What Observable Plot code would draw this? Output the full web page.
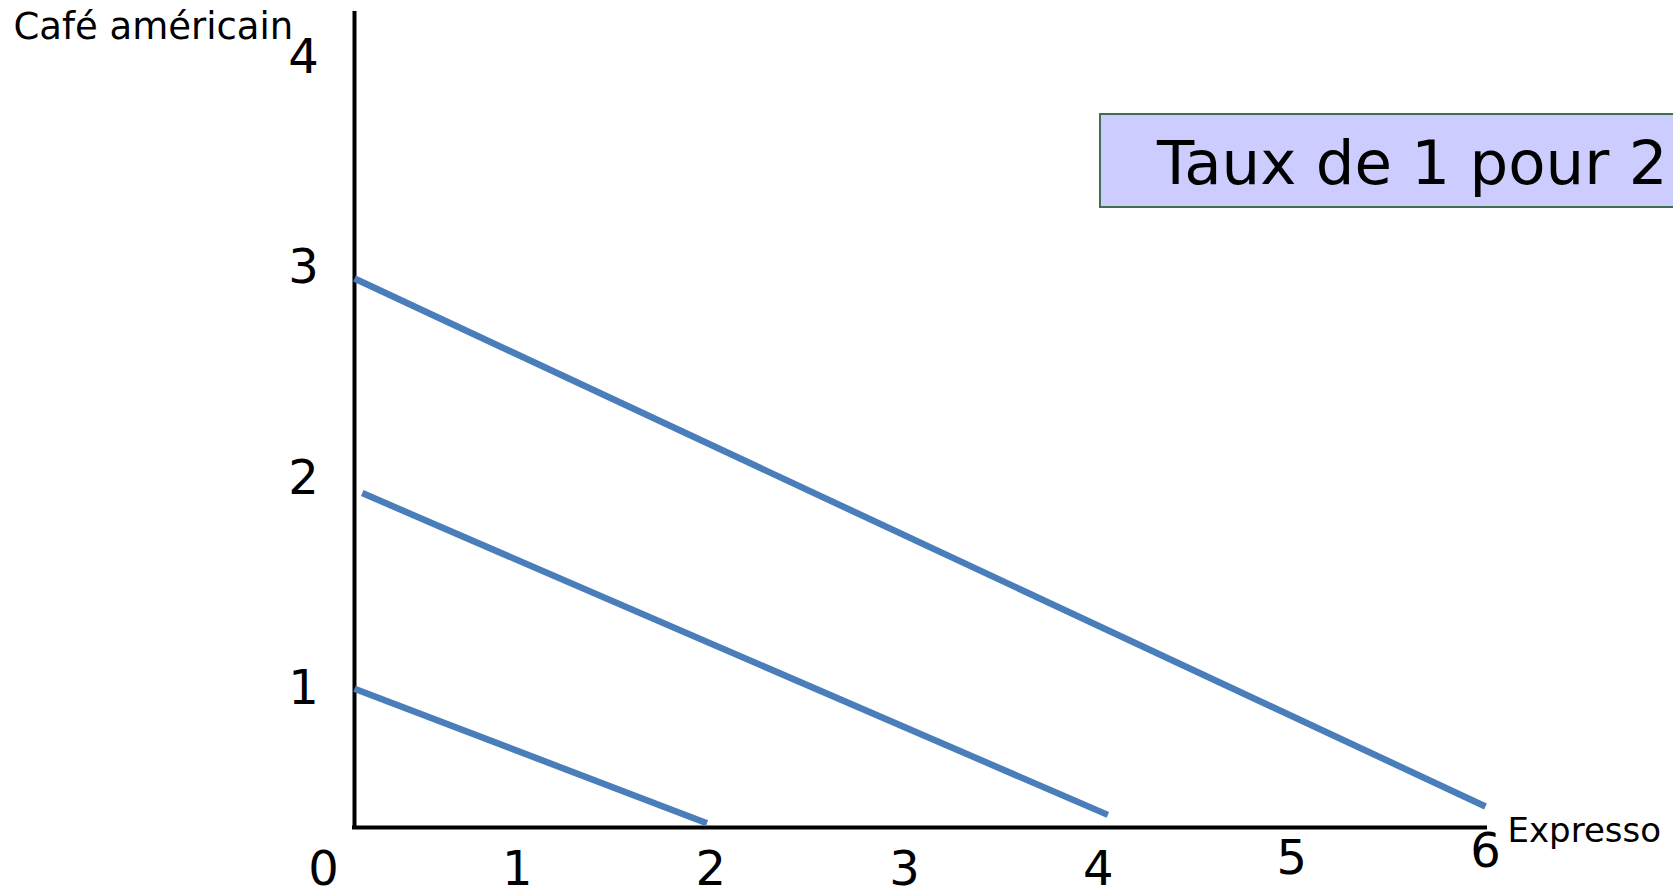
<!DOCTYPE html>
<html>
<head>
<meta charset="utf-8">
<script src="https://cdn.jsdelivr.net/npm/d3@7"></script>
<script src="https://cdn.jsdelivr.net/npm/@observablehq/plot@0.6"></script>
<style>
  body { margin: 0; background: #fff; overflow: hidden; }
  #wrap { position: relative; width: 1673px; height: 895px; }
  #box {
    position: absolute; left: 1099px; top: 113px; width: 620px; height: 91px;
    background: #ccccff; border: 2px solid #3f6e52; padding-left: 56px;
    font-family: "DejaVu Sans"; font-size: 61px; line-height: 95px; white-space: nowrap; color: #000;
  }
</style>
</head>
<body>
<div id="wrap"></div>
<script>
// ---- data ----
const xTicks = [0, 1, 2, 3, 4, 5, 6];
const yTicks = [1, 2, 3, 4];
const seriesNames = ["niveau 1", "niveau 2", "niveau 3"];
const startX = [0.16, 0.20, 0.16];
const startY = [1.00, 1.93, 2.95];
const endX = [1.98, 4.05, 6.00];
const endY = [0.36, 0.40, 0.44];
const yTitle = "Café américain";
const xTitle = "Expresso";
const boxLabel = "Taux de 1 pour 2";

// scale configuration
const xDomain = [0.16, 6];
const yDomain = [0.34, 4.21];

const segments = seriesNames.map((name, i) => ({
  name, x1: startX[i], y1: startY[i], x2: endX[i], y2: endY[i]
}));

const chart = Plot.plot({
  width: 1673,
  height: 895,
  marginLeft: 354,
  marginRight: 188,
  marginTop: 13,
  marginBottom: 68,
  x: { domain: xDomain, axis: null },
  y: { domain: yDomain, axis: null },
  style: { fontFamily: "DejaVu Sans", background: "transparent", color: "#000" },
  marks: [
    Plot.ruleX([xDomain[0]], { y1: () => yDomain[0], y2: () => yDomain[1], stroke: "#000", strokeWidth: 4, strokeLinecap: "square" }),
    Plot.ruleY([yDomain[0]], { x1: () => xDomain[0], x2: () => xDomain[1], stroke: "#000", strokeWidth: 4, strokeLinecap: "square" }),
    Plot.link(segments, { x1: "x1", y1: "y1", x2: "x2", y2: "y2", stroke: "#4a7ebb", strokeWidth: 6.5, strokeLinecap: "butt" }),
    Plot.text(xTicks.filter(d => d <= 4), { x: d => d, frameAnchor: "bottom", dy: 42, fontSize: 48, lineAnchor: "middle", fill: "#000" }),
    Plot.text(xTicks.filter(d => d === 5), { x: d => d, frameAnchor: "bottom", dy: 31, fontSize: 48, lineAnchor: "middle", fill: "#000" }),
    Plot.text(xTicks.filter(d => d === 6), { x: d => d, frameAnchor: "bottom", dy: 24, fontSize: 48, lineAnchor: "middle", fill: "#000" }),
    Plot.text(yTicks, { y: d => d, frameAnchor: "left", dx: -51, fontSize: 48, textAnchor: "middle", lineAnchor: "middle", fill: "#000" }),
    Plot.text([yTitle], { frameAnchor: "top-left", dx: -341, dy: 14, textAnchor: "start", lineAnchor: "middle", fontSize: 37, fill: "#000" }),
    Plot.text([xTitle], { frameAnchor: "bottom-right", dx: 22, dy: 4, textAnchor: "start", lineAnchor: "middle", fontSize: 34, fill: "#000" })
  ]
});

const wrap = document.getElementById("wrap");
wrap.appendChild(chart);
const box = document.createElement("div");
box.id = "box";
box.textContent = boxLabel;
wrap.appendChild(box);
</script>
</body>
</html>
